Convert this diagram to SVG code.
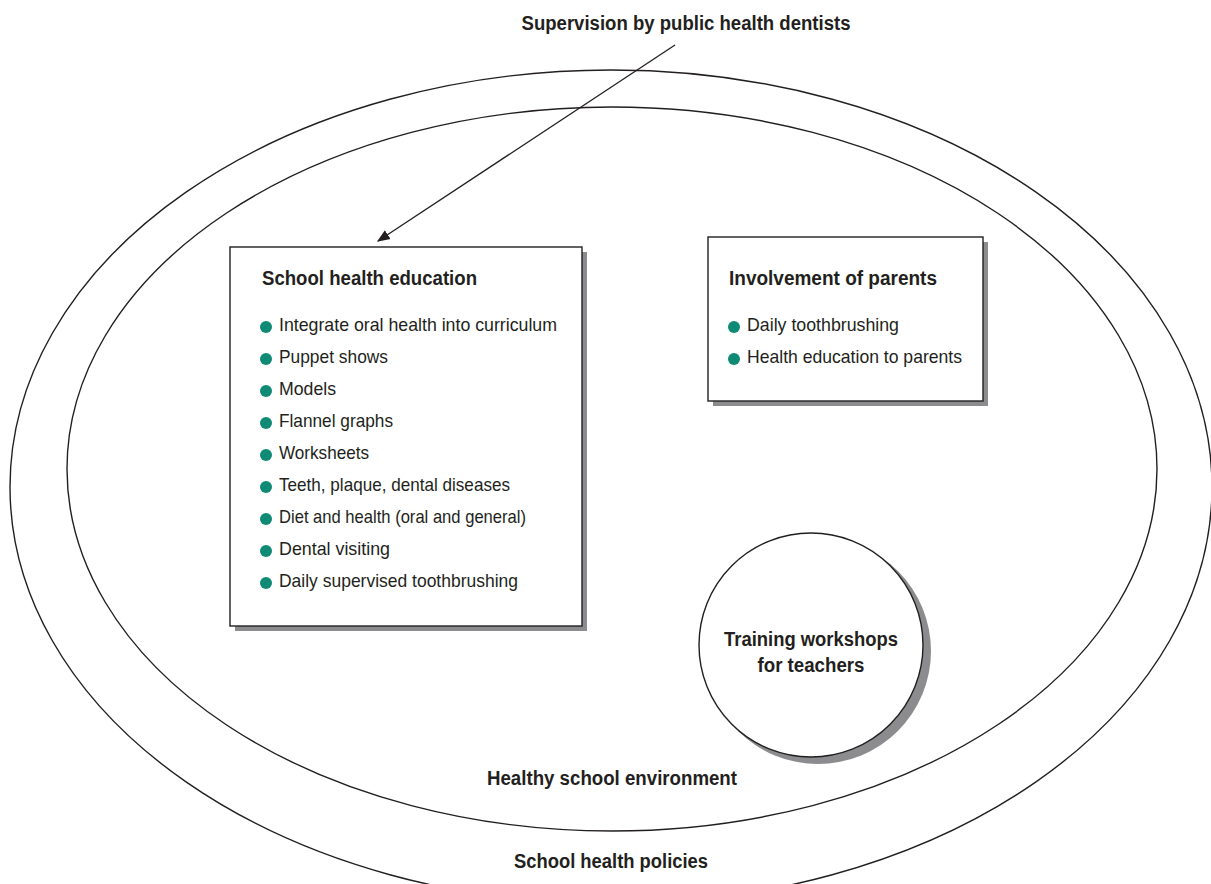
<svg xmlns="http://www.w3.org/2000/svg" width="1211" height="884" viewBox="0 0 1211 884">
<style>
.ring{fill:none;stroke:#231f20;stroke-width:1.4}
.box{fill:#fff;stroke:#231f20;stroke-width:1.4}
.shadow{fill:#8c8c8f}
.h{font-family:"Liberation Sans",Arial,sans-serif;font-weight:bold;font-size:20px;fill:#231f20}
.t{font-family:"Liberation Sans",Arial,sans-serif;font-size:18.5px;fill:#231f20}
.b{fill:#0f8a75}
</style>
<defs>
<marker id="ah" viewBox="0 0 10 10" refX="9" refY="5" markerWidth="13" markerHeight="13" markerUnits="userSpaceOnUse" orient="auto">
<path d="M0,1 L10,5 L0,9 Z" fill="#231f20"/>
</marker>
</defs>
<rect width="1211" height="884" fill="#fff"/>
<g id="policies">
<ellipse class="ring" cx="611" cy="487" rx="601" ry="417"/>
<text class="h" x="611" y="868" text-anchor="middle" textLength="194" lengthAdjust="spacingAndGlyphs">School health policies</text>
</g>
<g id="environment">
<ellipse class="ring" cx="612" cy="469" rx="545" ry="362"/>
<text class="h" x="612" y="785" text-anchor="middle" textLength="250" lengthAdjust="spacingAndGlyphs">Healthy school environment</text>
</g>
<g id="supervision">
<text class="h" x="686" y="30" text-anchor="middle" textLength="329" lengthAdjust="spacingAndGlyphs">Supervision by public health dentists</text>
</g>
<g id="connectors">
<line x1="675" y1="45" x2="378" y2="241" stroke="#231f20" stroke-width="1.3" marker-end="url(#ah)"/>
</g>
<g id="school-health-education">
<rect class="shadow" x="235" y="252" width="352" height="379"/>
<rect class="box" x="230" y="247" width="352" height="379"/>
<text class="h" x="262" y="285" textLength="215" lengthAdjust="spacingAndGlyphs">School health education</text>
<g class="b">
<circle cx="266" cy="327" r="6"/><circle cx="266" cy="359" r="6"/><circle cx="266" cy="391" r="6"/>
<circle cx="266" cy="423" r="6"/><circle cx="266" cy="455" r="6"/><circle cx="266" cy="487" r="6"/>
<circle cx="266" cy="519" r="6"/><circle cx="266" cy="551" r="6"/><circle cx="266" cy="583" r="6"/>
</g>
<text class="t" x="279" y="331" textLength="278" lengthAdjust="spacingAndGlyphs">Integrate oral health into curriculum</text>
<text class="t" x="279" y="363" textLength="109" lengthAdjust="spacingAndGlyphs">Puppet shows</text>
<text class="t" x="279" y="395" textLength="57" lengthAdjust="spacingAndGlyphs">Models</text>
<text class="t" x="279" y="427" textLength="114" lengthAdjust="spacingAndGlyphs">Flannel graphs</text>
<text class="t" x="279" y="459" textLength="90" lengthAdjust="spacingAndGlyphs">Worksheets</text>
<text class="t" x="279" y="491" textLength="231" lengthAdjust="spacingAndGlyphs">Teeth, plaque, dental diseases</text>
<text class="t" x="279" y="523" textLength="247" lengthAdjust="spacingAndGlyphs">Diet and health (oral and general)</text>
<text class="t" x="279" y="555" textLength="111" lengthAdjust="spacingAndGlyphs">Dental visiting</text>
<text class="t" x="279" y="587" textLength="239" lengthAdjust="spacingAndGlyphs">Daily supervised toothbrushing</text>
</g>
<g id="involvement-of-parents">
<rect class="shadow" x="713" y="242" width="275" height="164"/>
<rect class="box" x="708" y="237" width="275" height="164"/>
<text class="h" x="729" y="285" textLength="208" lengthAdjust="spacingAndGlyphs">Involvement of parents</text>
<circle class="b" cx="734" cy="327" r="6"/>
<circle class="b" cx="734" cy="359" r="6"/>
<text class="t" x="747" y="331" textLength="152" lengthAdjust="spacingAndGlyphs">Daily toothbrushing</text>
<text class="t" x="747" y="363" textLength="215" lengthAdjust="spacingAndGlyphs">Health education to parents</text>
</g>
<g id="training-workshops">
<circle class="shadow" cx="818" cy="651" r="113"/>
<circle class="box" cx="811" cy="645" r="112"/>
<text class="h" x="811" y="646" text-anchor="middle" textLength="174" lengthAdjust="spacingAndGlyphs">Training workshops</text>
<text class="h" x="811" y="672" text-anchor="middle" textLength="107" lengthAdjust="spacingAndGlyphs">for teachers</text>
</g>
</svg>
